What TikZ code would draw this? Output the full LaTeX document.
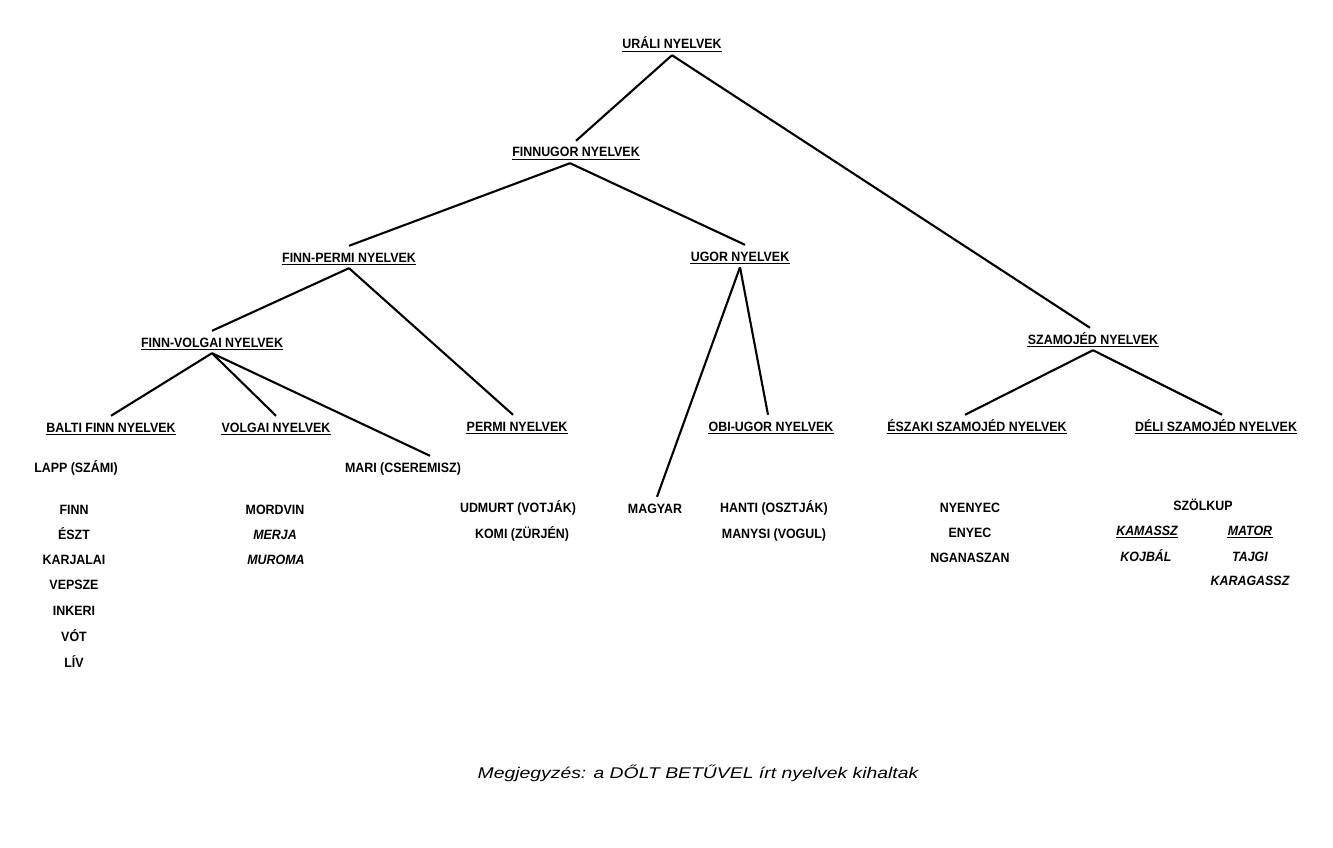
\documentclass[tikz,border=0pt]{standalone}
\usepackage{fontspec}
\setmainfont{Liberation Sans}
\newfontfamily\hfont{Liberation Sans}[FakeStretch=0.92]
\newfontfamily\nfont{Liberation Sans}[FakeStretch=1.25]
\newcommand\ulnd[1]{\draw[uline] ([yshift=-2.6pt]#1.base west) -- ([yshift=-2.6pt]#1.base east);}
\begin{document}
\begin{tikzpicture}[x=1pt,y=-1pt,
  t/.style={anchor=base, inner xsep=0.3pt, inner ysep=6pt, text height=10pt, text depth=0pt,
            font=\hfont\bfseries\fontsize{13.5}{15}\selectfont},
  it/.style={t, font=\hfont\bfseries\itshape\fontsize{13.5}{15}\selectfont},
  note/.style={anchor=base, inner sep=0pt, font=\nfont\itshape\fontsize{15.5}{18}\selectfont},
  edge/.style={line width=2.1pt},
  uline/.style={line width=1.4pt}]
\useasboundingbox[fill=white] (0,0) rectangle (1333,848);

% headers
\node[t] (ural) at (672,49) {URÁLI NYELVEK};
\node[t] (fu) at (576,157) {FINNUGOR NYELVEK};
\node[t] (fp) at (349,262) {FINN-PERMI NYELVEK};
\node[t] (ug) at (740,261) {UGOR NYELVEK};
\node[t] (sz) at (1093,344) {SZAMOJÉD NYELVEK};
\node[t] (fv) at (212,347) {FINN-VOLGAI NYELVEK};
\node[t] (bf) at (111,432) {BALTI FINN NYELVEK};
\node[t] (vo) at (276,432) {VOLGAI NYELVEK};
\node[t] (pe) at (517,431) {PERMI NYELVEK};
\node[t] (ob) at (771,431) {OBI-UGOR NYELVEK};
\node[t] (es) at (977,431) {ÉSZAKI SZAMOJÉD NYELVEK};
\node[t] (de) at (1216,431) {DÉLI SZAMOJÉD NYELVEK};
\foreach \n in {ural,fu,fp,ug,sz,fv,bf,vo,pe,ob,es,de}{\ulnd{\n}}

% leaves
\node[t] (mari) at (403,472) {MARI (CSEREMISZ)};
\node[t] (lapp) at (76,472) {LAPP (SZÁMI)};
\node[t] (finn) at (74,514) {FINN};
\node[t] (eszt) at (74,539) {ÉSZT};
\node[t] (karj) at (74,564) {KARJALAI};
\node[t] (veps) at (74,589) {VEPSZE};
\node[t] (inke) at (74,615) {INKERI};
\node[t] (vot) at (74,641) {VÓT};
\node[t] (liv) at (74,667) {LÍV};
\node[t] (mord) at (275,514) {MORDVIN};
\node[it] (merj) at (275,539) {MERJA};
\node[it] (muro) at (276,564) {MUROMA};
\node[t] (udm) at (518,512) {UDMURT (VOTJÁK)};
\node[t] (komi) at (522,538) {KOMI (ZÜRJÉN)};
\node[t] (mg) at (655,513) {MAGYAR};
\node[t] (hant) at (774,512) {HANTI (OSZTJÁK)};
\node[t] (many) at (774,538) {MANYSI (VOGUL)};
\node[t] (nyen) at (970,512) {NYENYEC};
\node[t] (enye) at (970,537) {ENYEC};
\node[t] (ngan) at (970,562) {NGANASZAN};
\node[t] (szol) at (1203,510) {SZÖLKUP};
\node[it] (kama) at (1147,535) {KAMASSZ};
\node[it] (mato) at (1250,535) {MATOR};
\node[it] (kojb) at (1146,561) {KOJBÁL};
\node[it] (tajg) at (1250,561) {TAJGI};
\node[it] (kara) at (1250,585) {KARAGASSZ};
\ulnd{kama}\ulnd{mato}

% note
\node[note] (megj) at (698,778) {Megjegyzés: a DŐLT BETŰVEL írt nyelvek kihaltak};

% connectors
\draw[edge] (ural.south) -- (fu.north);
\draw[edge] (ural.south) -- ([xshift=-3pt]sz.north);
\draw[edge] ([xshift=-6pt]fu.south) -- (fp.north);
\draw[edge] ([xshift=-6pt]fu.south) -- ([xshift=5pt]ug.north);
\draw[edge] (fp.south) -- (fv.north);
\draw[edge] (fp.south) -- ([xshift=-4pt]pe.north);
\draw[edge] (fv.south) -- (bf.north);
\draw[edge] (fv.south) -- (vo.north);
\draw[edge] (fv.south) -- ([xshift=27pt]mari.north);
\draw[edge] (ug.south) -- ([xshift=2pt]mg.north);
\draw[edge] (ug.south) -- ([xshift=-3pt]ob.north);
\draw[edge] (sz.south) -- ([xshift=-12pt]es.north);
\draw[edge] (sz.south) -- ([xshift=6pt]de.north);
\end{tikzpicture}
\end{document}
